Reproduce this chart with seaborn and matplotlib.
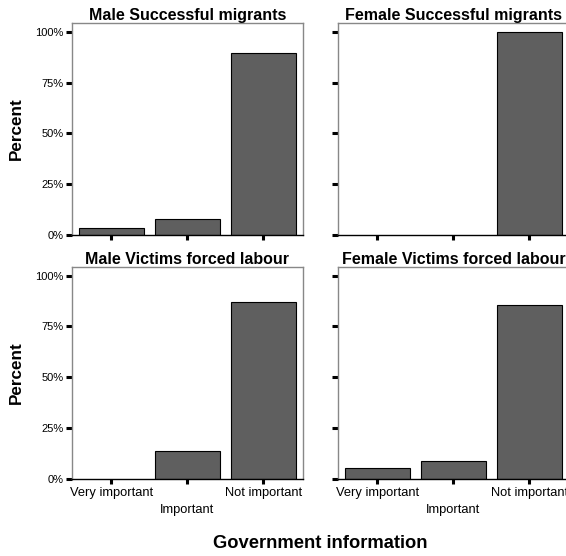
import matplotlib
matplotlib.use('Agg')
import matplotlib.pyplot as plt
import pandas as pd
import seaborn as sns

# categories and percentages
categories = ['Very important', 'Important', 'Not important']
male_successful = [3.3, 8.2, 89.4]
female_successful = [0.0, 0.0, 100.0]
male_victims = [0.0, 13.9, 86.8]
female_victims = [5.6, 8.9, 85.7]

panels = [
    ('Male Successful migrants', male_successful),
    ('Female Successful migrants', female_successful),
    ('Male Victims forced labour', male_victims),
    ('Female Victims forced labour', female_victims),
]
ytick_values = [0, 25, 50, 75, 100]
ytick_labels = ['0%', '25%', '50%', '75%', '100%']

sns.set_style('white')
plt.rcParams['font.family'] = ['Liberation Sans', 'DejaVu Sans']
plt.rcParams['text.color'] = 'black'
plt.rcParams['axes.labelcolor'] = 'black'
plt.rcParams['xtick.color'] = 'black'
plt.rcParams['ytick.color'] = 'black'

fig = plt.figure(figsize=(5.66, 5.56), dpi=100)

# axes rectangles in figure fraction: [left, bottom, width, height]
rects = [
    [0.127, 0.577, 0.408, 0.382],
    [0.597, 0.577, 0.408, 0.382],
    [0.127, 0.1385, 0.408, 0.382],
    [0.597, 0.1385, 0.408, 0.382],
]

for i, ((title, values), rect) in enumerate(zip(panels, rects)):
    ax = fig.add_axes(rect)
    df = pd.DataFrame({'category': categories, 'percent': values})
    sns.barplot(data=df, x='category', y='percent', ax=ax,
                color='#5f5f5f', saturation=1, width=0.86,
                edgecolor='black', linewidth=0.8)
    # zero-height bars are not drawn in the original
    for patch in ax.patches:
        if patch.get_height() == 0:
            patch.set_visible(False)
    ax.set_xlim(-0.52, 2.52)
    ax.set_ylim(0, 104.4)
    ax.set_yticks(ytick_values)
    ax.set_title(title, fontsize=11.5, fontweight='bold', pad=2, color='black')
    ax.set_xlabel('')

    for side in ['left', 'top', 'right']:
        ax.spines[side].set_color('#888888')
        ax.spines[side].set_linewidth(1)
    ax.spines['bottom'].set_color('black')
    ax.spines['bottom'].set_linewidth(1)

    ax.tick_params(axis='y', direction='out', length=4.5, width=2.2,
                   color='black', labelcolor='black', left=True,
                   labelsize=8, pad=1.5)
    ax.tick_params(axis='x', direction='out', length=3.5, width=2.2,
                   color='black', labelcolor='black', bottom=True,
                   labelsize=9.3, pad=2.5)

    if i % 2 == 0:
        ax.set_yticklabels(ytick_labels)
        ax.set_ylabel('Percent', fontsize=12.3, fontweight='bold', labelpad=8,
                      color='black')
    else:
        ax.set_yticklabels([])
        ax.set_ylabel('')

    ax.set_xticks([0, 1, 2])
    if i >= 2:
        ax.set_xticklabels([categories[0], '\n' + categories[1], categories[2]],
                           linespacing=1.55)
    else:
        ax.set_xticklabels([])

fig.text(0.565, 0.023, 'Government information', ha='center', va='center',
         fontsize=13.2, fontweight='bold', color='black')

fig.savefig('out.png', dpi=100)
